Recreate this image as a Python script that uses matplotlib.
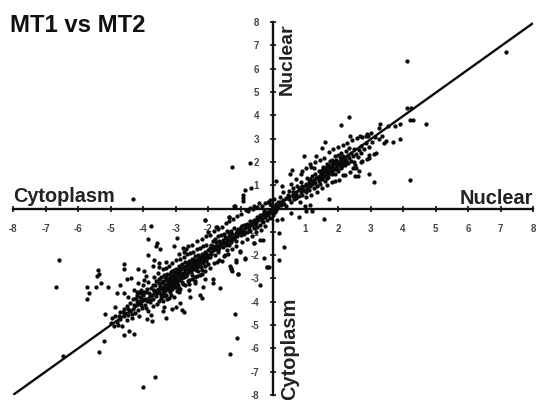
import matplotlib
matplotlib.use('Agg')
import matplotlib.pyplot as plt

plt.rcParams['font.family'] = ['Liberation Sans', 'DejaVu Sans']
plt.rcParams['axes.unicode_minus'] = False

ticks = [-8, -7, -6, -5, -4, -3, -2, -1, 1, 2, 3, 4, 5, 6, 7, 8]
line_x = [-8, 8]
line_y = [-8, 7.95]

# outliers
out_x = [-6.57,-6.68,-5.73,-5.67,-5.71,-5.45,-5.30,-5.08,-5.37,-5.36,-5.43,-4.58,-4.58,-4.14,-3.96,-4.48,-4.38,-4.71,-4.79,-4.58,-4.45,-4.86,-5.16,-4.58,-4.43,-4.29,-5.21,-5.36,-6.45,-4.01,-3.63,-1.18,-1.11,-1.33,
         -3.75,-3.84,-3.56,-3.6,-3.48,-2.94,-3.06,-3.84,-3.65,-3.7,-3.5,-2.77,-2.69,-2.09,-1.99,-1.73,-1.35,-1.19,-1.43,
         -4.3,-1.25,-0.72,-0.86,-0.68,-0.91,-0.91,-0.91,-2.09,-1.34,-1.75,-1.17,
         4.13,7.18,2.33,2.08,4.12,4.25,4.21,4.31,4.7,3.92,3.76,3.28,3.25,3.54,3.9,3.69,3.49,3.41,4.23,3.11,2.96,2.53,2.6,2.66,2.53,2.96,2.96,3.17,1.61,1.51,0.94,1.33,2.38,2.69,2.86,2.92,3.25,0.58,0.51,0.89,1.15,0.09,0.28,1.71,
         0.99,1.15,1.03,1.21,0.55,0.79,1.58,0.33,0.18,-0.18,0.28,0.12,0.17]
out_y = [-2.19,-3.36,-3.37,-3.63,-3.89,-3.37,-3.21,-3.37,-2.63,-2.81,-2.89,-2.36,-2.59,-2.6,-2.67,-3.01,-2.99,-3.3,-3.61,-3.61,-3.79,-4.23,-4.53,-5.43,-5.27,-5.37,-5.67,-6.16,-6.33,-7.64,-7.24,-4.51,-5.56,-6.26,
         -0.73,-1.3,-1.47,-1.61,-1.73,-1.26,-1.61,-1.99,-2.2,-2.45,-2.33,-1.69,-1.73,-0.5,-1.01,-0.79,-0.36,0.1,-0.97,
         0.41,1.77,1.94,0.79,0.89,0.6,0.46,0.31,-0.5,-0.36,-0.79,0.1,
         6.34,6.73,3.91,3.6,4.3,4.3,3.81,3.79,3.63,3.64,3.53,3.64,3.46,3.53,2.96,2.87,2.89,2.81,1.21,1.14,1.46,1.39,1.39,1.63,1.86,2.31,2.17,2.36,2.87,2.59,2.24,2.27,3.09,3.13,3.13,3.13,2.96,1.67,1.5,1.6,1.89,1.17,0.96,0.39,
         0.1,0.17,-0.11,-0.11,-0.19,-0.36,-0.44,-1.64,-2.23,-2.5,-0.47,-0.5,-1.04]

# sparse points under the band
under_x = [-3.89,-3.72,-3.29,-3.37,-3.34,-3.12,-2.98,-2.86,-2.81,-2.73,-2.55,-2.25,-2.18,-2.14,-1.63,-1.86,-1.86,-2.09,-1.32,-1.29,-1.08,-1.14,-0.86,-1.02,-0.6,-0.4,-0.4,
           -0.58,-0.32,-1.02,-1.14,-1.3,-1.27,-0.2,-0.12,-0.28,-0.86,-1.07,-1.58,-1.73,-1.42,-1.48]
under_y = [-4.76,-4.83,-4.71,-4.4,-4.21,-4.3,-4.21,-4.04,-4.37,-4.43,-3.79,-3.69,-3.84,-3.37,-3.4,-3.04,-3.19,-3.04,-2.47,-2.61,-2.8,-2.29,-2.11,-1.87,-1.47,-1.33,-3.3,
           -1.5,-1.33,-1.83,-2.19,-2.55,-2.7,-2.5,-2.5,-2.12,-2.16,-2.83,-2.26,-2.3,-1.76,-2.0]

# lower band, x below -3.7
low_x = [-5.0,-4.95,-4.9,-4.85,-4.8,-4.78,-4.7,-4.7,-4.65,-4.6,-4.6,-4.55,-4.5,-4.5,-4.45,-4.4,-4.4,-4.35,-4.3,-4.3,-4.25,-4.2,-4.2,-4.15,-4.1,-4.1,-4.05,-4.05,-4.0,-4.0,-3.95,-3.9,-3.9,-3.85,-3.85,-3.8,-3.8,-3.75,-3.75,-4.15,-4.28,-3.98,-3.92,-4.12,
         -4.22,-4.17,-4.08,-4.03,-3.97,-3.93,-3.88,-3.82,-3.78,-3.72,-4.27,-4.13,-4.02,-3.87,-4.47,-4.62,-4.73,-4.33,-4.18,-4.07]
low_y = [-4.9,-4.7,-5.05,-4.6,-4.85,-5.0,-4.45,-4.75,-5.05,-4.6,-4.3,-4.5,-4.8,-4.2,-4.55,-4.05,-4.4,-4.7,-4.3,-3.9,-4.5,-3.6,-4.1,-4.35,-3.8,-3.95,-3.5,-4.15,-3.7,-3.3,-3.9,-4.25,-3.6,-3.15,-4.4,-3.75,-4.0,-3.4,-4.55,-3.2,-3.5,-3.05,-2.9,-4.6,
         -3.83,-3.72,-4.07,-3.88,-3.58,-4.12,-3.47,-3.62,-3.93,-3.72,-4.13,-3.58,-4.28,-3.95,-4.33,-4.42,-4.62,-4.52,-3.97,-3.63]

# densest part of the band
mid_x = [-3.7,-3.7,-3.68,-3.65,-3.65,-3.6,-3.6,-3.58,-3.55,-3.55,-3.5,-3.5,-3.5,-3.45,-3.45,-3.45,-3.4,-3.4,-3.4,-3.4,-3.35,-3.35,-3.35,-3.3,-3.3,-3.3,-3.3,-3.25,-3.25,-3.25,-3.2,-3.2,-3.2,-3.2,-3.15,-3.15,-3.15,-3.1,-3.1,-3.1,-3.1,-3.05,-3.05,-3.05,-3.0,-3.0,-3.0,-3.0,-2.95,-2.95,-2.95,-2.9,-2.9,-2.9,-2.9,-2.85,-2.85,-2.85,-2.8,-2.8,-2.8,-2.75,-2.75,-2.75,-2.7,-2.7,-2.7,-2.65,-2.65,-2.65,-2.6,-2.6,-2.6,-2.55,-2.55,-2.55,-2.5,-2.5,-2.5,-2.45,-2.45,-2.45,-2.4,-2.4,-2.4,-2.35,-2.35,-2.35,-2.3,-2.3,-2.3,-2.25,-2.25,-2.25,-2.2,-2.2,-2.2,-2.15,-2.15,-2.15,-2.1,-2.1,-2.05,-2.05,-2.05,-2.0,-2.0,-2.0,-2.9,-3.2,-2.6,-2.4,-3.5,-3.3,
         -3.67,-3.62,-3.57,-3.52,-3.47,-3.43,-3.38,-3.33,-3.28,-3.23,-3.18,-3.13,-3.08,-3.03,-2.98,-2.93,-2.88,-2.83,-2.78,-2.73,-2.68,-2.63,-2.58,-2.53,-2.48,-2.43,-2.38,-2.33,-2.28,-2.23,-2.18,-2.13,-2.08,-2.03,
         -3.42,-3.37,-3.32,-3.27,-3.22,-3.17,-3.12,-3.07,-3.02,-2.97,-2.92,-2.87,-2.82,-2.77,-2.72,-2.67,-2.62,-2.57,-2.52,-2.47,-2.42,-2.37,-2.32,-2.27,-2.22,-2.17,-2.12,
         -3.26,-3.16,-3.06,-2.96,-2.86,-2.76,-2.66,-2.56,-2.46,-2.36,-2.26,-3.36,-3.46,-3.56]
mid_y = [-3.3,-3.9,-4.2,-3.55,-2.95,-3.75,-3.1,-4.1,-3.45,-2.75,-3.95,-3.2,-3.6,-2.95,-3.4,-3.85,-3.65,-3.1,-2.6,-3.95,-3.35,-2.85,-3.75,-3.05,-3.45,-2.55,-3.7,-3.25,-2.8,-3.9,-3.0,-3.5,-2.45,-3.35,-2.9,-3.2,-3.7,-2.7,-3.05,-3.45,-2.35,-2.85,-3.25,-3.8,-2.6,-3.0,-3.35,-2.2,-2.8,-3.15,-3.55,-2.45,-2.75,-3.05,-3.4,-2.6,-2.9,-2.15,-2.4,-2.75,-3.15,-2.5,-2.95,-2.1,-2.3,-2.65,-3.3,-2.45,-2.8,-1.95,-2.25,-2.55,-3.05,-2.4,-2.7,-1.9,-2.15,-2.5,-2.85,-2.3,-2.6,-1.85,-2.05,-2.4,-2.95,-2.2,-2.5,-1.75,-2.0,-2.3,-2.7,-2.15,-2.45,-1.7,-1.95,-2.2,-2.65,-2.05,-2.35,-1.6,-1.85,-2.15,-1.95,-2.25,-1.55,-1.8,-2.05,-2.4,-3.6,-3.85,-3.5,-3.2,-2.5,-2.3,
         -3.48,-3.27,-3.62,-3.02,-3.33,-3.68,-3.18,-3.52,-2.92,-3.22,-3.58,-2.72,-3.12,-3.38,-2.87,-3.28,-2.62,-2.97,-3.22,-2.53,-2.88,-3.12,-2.42,-2.72,-3.03,-2.33,-2.62,-2.88,-2.27,-2.53,-2.82,-2.18,-2.47,-2.12,
         -3.17,-3.53,-2.93,-3.23,-3.07,-2.83,-3.32,-2.98,-2.78,-3.13,-2.68,-2.97,-2.58,-2.83,-2.52,-2.77,-2.38,-2.67,-2.32,-2.57,-2.23,-2.48,-2.17,-2.37,-2.08,-2.28,-1.98,
         -3.42,-3.27,-2.62,-3.28,-2.52,-2.92,-2.33,-2.68,-2.22,-2.42,-2.08,-3.48,-3.72,-3.53]

# upper part of the lower band, up to the origin
near_x = [-1.95,-1.95,-1.9,-1.9,-1.85,-1.85,-1.8,-1.8,-1.8,-1.75,-1.75,-1.7,-1.7,-1.7,-1.65,-1.65,-1.6,-1.6,-1.55,-1.55,-1.5,-1.5,-1.45,-1.45,-1.4,-1.4,-1.35,-1.35,-1.3,-1.3,-1.25,-1.2,-1.2,-1.15,-1.15,-1.1,-1.1,-1.05,-1.0,-1.0,-0.95,-0.9,-0.9,-0.85,-0.8,-0.8,-0.75,-0.7,-0.7,-0.65,-0.6,-0.6,-0.55,-0.5,-0.5,-0.45,-0.4,-0.4,-0.35,-0.3,-0.3,-0.25,-0.2,-0.2,-0.15,-0.1,-0.1,-0.05,-0.05,0.0,0.0,0.05,0.05,0.1,0.1,0.15,-0.48,-0.35,-0.25,-0.15,-0.1,0.02,-0.62,-0.78,
          -1.92,-1.82,-1.73,-1.63,-1.53,-1.43,-1.33,-1.23,-1.13,-1.03,-0.93,-0.83,-0.73,-0.63,-0.53,-0.43,-0.33,-0.23,-0.13,-0.03,-1.88,-1.68,-1.48,-1.28,-1.08,-0.88,-0.68,-0.48,-0.28,-0.08]
near_y = [-1.7,-2.1,-1.55,-1.95,-1.8,-1.4,-1.6,-2.0,-1.3,-1.75,-1.45,-1.55,-1.85,-1.2,-1.4,-1.7,-1.5,-1.15,-1.35,-1.65,-1.45,-1.1,-1.25,-1.55,-1.35,-1.0,-1.2,-1.55,-0.95,-1.3,-1.1,-1.25,-0.85,-1.05,-1.4,-0.95,-1.2,-1.05,-0.8,-1.15,-0.95,-0.7,-1.1,-0.85,-0.65,-1.0,-0.75,-0.55,-0.95,-0.7,-0.5,-0.85,-0.65,-0.45,-0.8,-0.5,-0.3,-0.7,-0.45,-0.25,-0.6,-0.35,-0.15,-0.5,-0.3,-0.05,-0.4,-0.15,0.15,0.05,-0.3,0.1,-0.15,0.2,-0.05,0.3,0.05,0.1,0.25,0.3,0.35,0.4,0.0,-0.1,
          -1.88,-1.72,-1.62,-1.58,-1.38,-1.42,-1.12,-1.32,-1.18,-0.92,-1.02,-0.72,-0.88,-0.58,-0.62,-0.38,-0.52,-0.22,-0.18,-0.08,-1.62,-1.78,-1.22,-1.42,-0.88,-1.02,-0.62,-0.38,-0.12,0.18]

# upper band
up_x = [0.15,0.2,0.2,0.25,0.3,0.3,0.35,0.4,0.4,0.45,0.5,0.5,0.55,0.6,0.6,0.65,0.7,0.7,0.75,0.8,0.8,0.85,0.85,0.9,0.9,0.95,1.0,1.0,1.05,1.05,1.1,1.1,1.15,1.15,1.2,1.2,1.25,1.25,1.3,1.3,1.35,1.35,1.4,1.4,1.45,1.45,1.5,1.5,1.5,1.55,1.55,1.6,1.6,1.6,1.65,1.65,1.7,1.7,1.7,1.75,1.75,1.8,1.8,1.8,1.85,1.85,1.9,1.9,1.9,1.95,1.95,2.0,2.0,2.0,2.05,2.05,2.1,2.1,2.1,2.15,2.15,2.2,2.2,2.25,2.25,2.3,2.3,2.35,2.35,2.4,2.4,2.45,2.5,2.5,2.55,2.6,2.65,2.7,2.7,2.8,2.85,2.95,3.05,3.15,3.35,1.25,1.65,1.9,2.15,2.45,2.75,
        1.42,1.52,1.58,1.63,1.68,1.73,1.78,1.83,1.88,1.93,1.98,2.03,2.08,2.13,2.18,2.23,1.47,1.57,1.67,1.77,1.87,1.97,2.07,2.17,0.62,0.72,0.82,0.92,1.02,1.12,1.22,1.32]
up_y = [0.05,0.3,0.5,0.15,0.35,0.7,0.2,0.45,0.1,0.6,0.4,0.75,0.3,0.55,0.9,0.4,0.7,0.45,0.95,0.55,0.85,0.7,1.15,0.6,0.95,0.8,0.7,1.05,0.9,1.3,0.8,1.1,1.25,0.95,1.05,1.4,0.9,1.2,1.1,1.5,1.3,0.95,1.2,1.6,1.4,1.05,1.25,1.65,1.5,1.35,1.8,1.2,1.55,1.75,1.45,1.9,1.6,1.35,1.85,1.7,2.05,1.5,1.8,2.1,1.65,2.0,1.75,2.25,1.5,1.9,2.1,1.6,1.85,2.3,2.0,2.2,1.75,2.05,2.4,1.95,2.25,1.85,2.15,2.05,2.45,1.95,2.3,2.15,2.6,2.05,2.4,2.25,2.0,2.55,2.35,2.2,2.5,2.4,2.7,2.55,2.8,2.65,2.85,3.05,3.1,1.75,1.3,1.2,1.45,1.75,2.05,
        1.32,1.42,1.62,1.72,1.48,1.82,1.58,1.92,1.68,2.02,1.78,1.92,2.12,1.82,2.08,1.98,1.58,1.38,1.78,1.52,1.98,1.68,1.88,2.18,0.72,0.58,0.88,0.78,1.02,1.22,1.18,1.32]

# points on the edges of the band, which is wider than the line of the core
edge_x = [-2.9,-2.75,-2.62,-2.48,-2.33,-2.2,-2.06,-1.94,-1.83,-1.7,-1.58,-1.45,-1.36,-1.22,-1.1,-0.98,-0.84,-0.72,-0.58,-0.44,
          -2.85,-2.6,-2.4,-2.25,-2.1,-1.95,-1.82,-1.67,-1.52,-1.38,-1.26,-1.13,-0.96,-0.8,-0.66,-0.52,-0.38,-0.24,
          0.55,0.7,0.86,1.02,1.16,1.3,1.44,1.56,1.72,1.86,2.0,2.16,2.28,2.44,2.58,2.74,2.88,3.02,
          0.82,1.0,1.18,1.36,1.5,1.66,1.82,2.02,2.2,2.38,2.56,2.72,2.9,3.1]
edge_y = [-1.95,-1.85,-1.62,-1.55,-1.4,-1.3,-1.18,-1.12,-0.98,-0.9,-0.78,-0.62,-0.55,-0.45,-0.32,-0.24,-0.08,0.02,0.12,0.22,
          -3.45,-3.25,-3.1,-2.85,-2.7,-2.55,-2.35,-2.2,-2.05,-1.95,-1.72,-1.6,-1.45,-1.3,-1.2,-1.02,-0.92,-0.75,
          1.05,1.25,1.5,1.72,1.8,2.0,2.1,2.18,2.42,2.55,2.62,2.72,2.82,2.92,3.02,3.08,3.18,3.25,
          0.3,0.5,0.6,0.72,0.9,1.02,1.12,1.22,1.45,1.58,1.72,1.98,2.12,2.35]

all_x = out_x + under_x + low_x + mid_x + near_x + up_x + edge_x
all_y = out_y + under_y + low_y + mid_y + near_y + up_y + edge_y

fig = plt.figure(figsize=(5.37, 4.0), dpi=100)
ax = fig.add_axes([13 / 537, 5 / 400, 520 / 537, 373 / 400])
ax.scatter(all_x, all_y, s=9.5, c='#0a0a0a', linewidths=0, zorder=3, clip_on=False)
ax.plot(line_x, line_y, color='#0a0a0a', lw=1.7, zorder=4, solid_capstyle='butt')

ax.set_xlim(-8, 8)
ax.set_ylim(-8, 8)
for side in ['top', 'right']:
    ax.spines[side].set_visible(False)
for side in ['left', 'bottom']:
    ax.spines[side].set_position(('data', 0))
    ax.spines[side].set_linewidth(1.7)
    ax.spines[side].set_color('#111111')
ax.set_xticks(ticks)
ax.set_yticks(ticks)
ax.tick_params(axis='both', direction='inout', length=4, width=1.2, color='#111111',
               labelsize=7, labelcolor='#444444')
ax.tick_params(axis='x', pad=9)
ax.tick_params(axis='y', pad=8)
for lab in ax.get_xticklabels() + ax.get_yticklabels():
    lab.set_fontweight('bold')
ax.patch.set_alpha(0)

ax.text(-8.08, 7.55, 'MT1 vs MT2', fontsize=17.2, fontweight='bold', color='#111111', ha='left', va='baseline')
ax.text(-8, 0.3, 'Cytoplasm', fontsize=14.3, fontweight='bold', color='#222222', ha='left', va='baseline')
ax.text(8, 0.19, 'Nuclear', fontsize=14.4, fontweight='bold', color='#222222', ha='right', va='baseline')
ax.text(0.7, 7.95, 'Nuclear', fontsize=14, fontweight='bold', color='#222222', rotation=90, ha='right', va='top')
ax.text(0.8, -8.2, 'Cytoplasm', fontsize=14.4, fontweight='bold', color='#222222', rotation=90, ha='right', va='bottom')

fig.savefig('out.png', dpi=100)
